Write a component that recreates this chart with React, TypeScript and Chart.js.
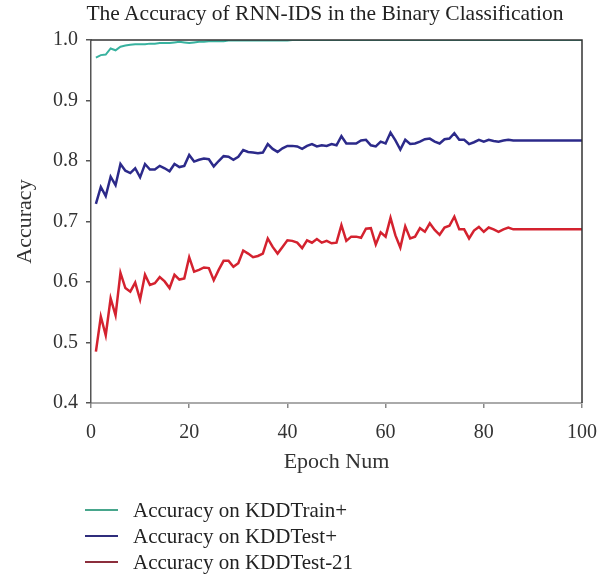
import React, { useEffect, useRef } from "react";
import { Chart, registerables } from "chart.js";

Chart.register(...registerables);

const epochs: number[] = Array.from({ length: 100 }, (_, i) => i + 1);

const trainAcc: number[] = [
  0.971, 0.975, 0.976, 0.986, 0.983, 0.989, 0.991, 0.992, 0.993, 0.993,
  0.993, 0.994, 0.994, 0.995, 0.995, 0.995, 0.996, 0.997, 0.996, 0.995,
  0.996, 0.997, 0.997, 0.998, 0.998, 0.998, 0.998, 0.999, 0.999, 0.999,
  0.999, 0.999, 0.999, 0.999, 0.999, 0.999, 0.999, 0.999, 0.999, 0.999,
  1.0, 1.0, 1.0, 1.0, 1.0, 1.0, 1.0, 1.0, 1.0, 1.0,
  1.0, 1.0, 1.0, 1.0, 1.0, 1.0, 1.0, 1.0, 1.0, 1.0,
  1.0, 1.0, 1.0, 1.0, 1.0, 1.0, 1.0, 1.0, 1.0, 1.0,
  1.0, 1.0, 1.0, 1.0, 1.0, 1.0, 1.0, 1.0, 1.0, 1.0,
  1.0, 1.0, 1.0, 1.0, 1.0, 1.0, 1.0, 1.0, 1.0, 1.0,
  1.0, 1.0, 1.0, 1.0, 1.0, 1.0, 1.0, 1.0, 1.0, 1.0,
];

const testAcc: number[] = [
  0.729, 0.757, 0.742, 0.774, 0.760, 0.795, 0.784, 0.780, 0.788, 0.773,
  0.795, 0.786, 0.786, 0.792, 0.788, 0.783, 0.795, 0.790, 0.792, 0.810,
  0.799, 0.802, 0.804, 0.803, 0.791, 0.800, 0.808, 0.807, 0.802, 0.807,
  0.818, 0.815, 0.814, 0.813, 0.814, 0.828, 0.820, 0.815, 0.821, 0.825,
  0.825, 0.824, 0.820, 0.825, 0.828, 0.824, 0.826, 0.825, 0.828, 0.826,
  0.841, 0.829, 0.829, 0.829, 0.834, 0.835, 0.826, 0.824, 0.832, 0.829,
  0.847, 0.834, 0.819, 0.835, 0.828, 0.829, 0.832, 0.836, 0.837, 0.832,
  0.829, 0.836, 0.837, 0.846, 0.835, 0.835, 0.828, 0.831, 0.835, 0.832,
  0.835, 0.833, 0.832, 0.834, 0.835, 0.834, 0.834, 0.834, 0.834, 0.834,
  0.834, 0.834, 0.834, 0.834, 0.834, 0.834, 0.834, 0.834, 0.834, 0.834,
];

const test21Acc: number[] = [
  0.485, 0.543, 0.512, 0.573, 0.545, 0.615, 0.590, 0.584, 0.599, 0.571,
  0.612, 0.595, 0.598, 0.608, 0.601, 0.590, 0.612, 0.604, 0.606, 0.641,
  0.617, 0.620, 0.624, 0.623, 0.603, 0.620, 0.635, 0.635, 0.625, 0.631,
  0.652, 0.647, 0.641, 0.643, 0.647, 0.672, 0.658, 0.647, 0.658, 0.669,
  0.668, 0.665, 0.656, 0.669, 0.665, 0.671, 0.665, 0.668, 0.664, 0.665,
  0.694, 0.668, 0.675, 0.675, 0.673, 0.688, 0.689, 0.662, 0.682, 0.675,
  0.706, 0.677, 0.657, 0.692, 0.672, 0.675, 0.689, 0.683, 0.697, 0.686,
  0.678, 0.690, 0.693, 0.708, 0.687, 0.687, 0.672, 0.685, 0.691, 0.683,
  0.690, 0.687, 0.683, 0.687, 0.690, 0.687, 0.687, 0.687, 0.687, 0.687,
  0.687, 0.687, 0.687, 0.687, 0.687, 0.687, 0.687, 0.687, 0.687, 0.687,
];

const seriesNames: string[] = [
  "Accuracy on KDDTrain+",
  "Accuracy on KDDTest+",
  "Accuracy on KDDTest-21",
];
const seriesValues: number[][] = [trainAcc, testAcc, test21Acc];
const lineColors: string[] = ["#38b29f", "#2c2a8a", "#d4222f"];
const legendColors: string[] = ["#48a68c", "#2f2d7c", "#8c2e3c"];
const lineWidths: number[] = [2, 2.5, 2.5];

const chartTitle = "The Accuracy of RNN-IDS in the Binary Classification";
const xTitle = "Epoch Num";
const yTitle = "Accuracy";
const xMin = 0, xMax = 100, xStep = 20;
const yMin = 0.4, yMax = 1.0, yStep = 0.1;

const SERIF = '"Liberation Serif", "Times New Roman", serif';

const framePlugin = {
  id: "frame",
  afterDraw(chart: any) {
    const { ctx, chartArea } = chart;
    const { left, right, top, bottom } = chartArea;
    ctx.save();
    ctx.strokeStyle = "#333";
    ctx.lineWidth = 1.5;
    ctx.beginPath();
    ctx.moveTo(left, top);
    ctx.lineTo(right, top);
    ctx.lineTo(right, bottom);
    ctx.stroke();
    ctx.restore();
  },
};

export default function App() {
  const canvasRef = useRef<HTMLCanvasElement | null>(null);

  useEffect(() => {
    const canvas = canvasRef.current;
    if (!canvas) return;
    const chart = new Chart(canvas, {
      type: "line",
      data: {
        datasets: seriesNames.map((name, k) => ({
          label: name,
          data: epochs.map((e, i) => ({ x: e, y: seriesValues[k][i] })),
          borderColor: lineColors[k],
          backgroundColor: lineColors[k],
          borderWidth: lineWidths[k],
          pointRadius: 0,
          tension: 0,
          fill: false,
        })),
      },
      options: {
        animation: false,
        responsive: false,
        devicePixelRatio: 1,
        layout: { padding: { left: 0, right: 29, top: 40, bottom: 100 } },
        plugins: {
          legend: { display: false },
          title: { display: false },
          tooltip: { enabled: false },
        },
        scales: {
          x: {
            type: "linear",
            min: xMin,
            max: xMax,
            ticks: {
              stepSize: xStep,
              padding: 13,
              color: "#333",
              font: { family: SERIF, size: 20 },
              maxRotation: 0,
            },
            grid: {
              drawOnChartArea: false,
              drawTicks: true,
              tickLength: 5,
              color: "#888",
              lineWidth: 1.5,
            },
            border: { display: true, color: "#aaa", width: 2 },
            title: {
              display: true,
              text: xTitle,
              color: "#333",
              font: { family: SERIF, size: 22 },
              padding: { top: 0, bottom: 3 },
            },
            afterFit(scale: any) {
              scale.height = 75;
            },
          },
          y: {
            type: "linear",
            min: yMin,
            max: yMax,
            ticks: {
              stepSize: yStep,
              padding: 8,
              color: "#333",
              font: { family: SERIF, size: 20 },
              callback: (v: any) => Number(v).toFixed(1),
            },
            grid: {
              drawOnChartArea: false,
              drawTicks: true,
              tickLength: 5,
              color: "#555",
              lineWidth: 1.5,
            },
            border: { display: true, color: "#555", width: 1.5 },
            title: {
              display: true,
              text: yTitle,
              color: "#333",
              font: { family: SERIF, size: 22 },
              padding: { top: 12, bottom: 0 },
            },
            afterFit(scale: any) {
              scale.width = 91;
            },
          },
        },
      },
      plugins: [framePlugin],
    });
    return () => chart.destroy();
  }, []);

  return (
    <div style={{ position: "absolute", left: 0, top: 0, width: 611, height: 578, background: "#fff", overflow: "hidden" }}>
      <canvas ref={canvasRef} width={611} height={578} style={{ position: "absolute", left: 0, top: 0 }} />
      <div
        style={{
          position: "absolute",
          left: 325,
          top: 13,
          transform: "translate(-50%, -50%)",
          whiteSpace: "nowrap",
          fontFamily: SERIF,
          fontSize: 21.5,
          color: "#222",
        }}
      >
        {chartTitle}
      </div>
      <div style={{ position: "absolute", left: 85, top: 497 }}>
        {seriesNames.map((name, k) => (
          <div key={name} style={{ display: "flex", alignItems: "center", height: 26 }}>
            <span style={{ display: "inline-block", width: 33, height: 2.5, background: legendColors[k], marginRight: 15 }} />
            <span style={{ fontFamily: SERIF, fontSize: 21, color: "#222", whiteSpace: "nowrap" }}>{name}</span>
          </div>
        ))}
      </div>
    </div>
  );
}
